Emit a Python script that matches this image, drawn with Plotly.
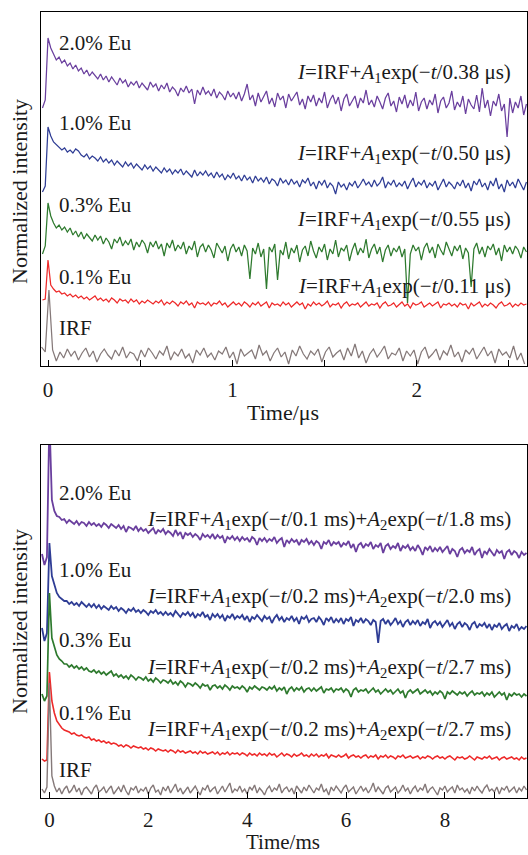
import numpy as np
import plotly.graph_objects as go

# ---------------- DATA ----------------
# Top panel: time in microseconds, uniform sampling
top_t0, top_dt = -0.03, 0.015
irf_top_t0, irf_top_dt = -0.035, 0.02

top_eu20 = [258, 266, 328, 318, 312, 306, 309, 303, 306, 300,
            303, 297, 301, 295, 298, 292, 296, 290, 294, 291,
            287, 292, 286, 290, 284, 289, 285, 281, 288, 283,
            286, 279, 284, 281, 285, 278, 283, 280, 276, 284,
            279, 282, 275, 281, 277, 283, 274, 279, 276, 270,
            278, 274, 280, 273, 277, 262, 276, 271, 279, 272,
            275, 270, 277, 268, 274, 271, 266, 275, 269, 273,
            267, 274, 265, 272, 282, 266, 271, 260, 273, 264,
            270, 275, 262, 268, 259, 273, 266, 270, 258, 272,
            265, 269, 274, 261, 267, 257, 270, 264, 271, 260,
            268, 263, 274, 258, 266, 271, 262, 269, 255, 267,
            272, 260, 265, 270, 258, 268, 263, 276, 261, 266,
            259, 270, 264, 257, 268, 273, 260, 265, 254, 269,
            262, 271, 258, 266, 260, 274, 255, 264, 268, 257,
            266, 261, 272, 253, 265, 269, 258, 263, 275, 256,
            264, 259, 270, 252, 267, 261, 257, 271, 254, 278,
            258, 266, 250, 265, 260, 272, 255, 262, 229, 268,
            253, 264, 258, 270, 251, 262]

top_eu10 = [174, 180, 239, 230, 224, 221, 219, 216, 218, 214,
            216, 213, 217, 215, 211, 209, 212, 207, 210, 208,
            205, 209, 204, 207, 203, 206, 201, 205, 202, 199,
            204, 200, 203, 198, 202, 199, 196, 201, 197, 200,
            195, 199, 196, 193, 198, 194, 197, 192, 196, 193,
            197, 191, 195, 192, 189, 196, 190, 194, 191, 195,
            190, 193, 188, 194, 189, 192, 186, 191, 188, 193,
            187, 190, 185, 191, 186, 189, 183, 190, 185, 188,
            184, 189, 182, 187, 185, 180, 188, 183, 186, 181,
            187, 182, 185, 179, 186, 183, 188, 180, 184, 177,
            185, 181, 186, 178, 183, 180, 172, 184, 179, 182,
            176, 183, 180, 185, 178, 182, 187, 181, 184, 179,
            186, 180, 183, 189, 178, 184, 181, 186, 179, 183,
            180, 185, 177, 183, 188, 179, 184, 181, 186, 178,
            183, 180, 185, 176, 182, 187, 179, 184, 181, 177,
            184, 180, 186, 178, 183, 175, 185, 181, 187, 179,
            183, 176, 185, 180, 188, 177, 182, 174, 186, 180,
            184, 178, 187, 181, 176, 184]

top_eu03 = [112, 120, 163, 150, 143, 138, 141, 136, 139, 134,
            138, 131, 135, 129, 134, 127, 132, 128, 125, 131,
            126, 130, 122, 128, 124, 117, 127, 123, 129, 120,
            125, 121, 127, 116, 124, 119, 126, 122, 113, 124,
            119, 125, 117, 122, 110, 123, 118, 126, 115, 121,
            117, 124, 112, 120, 116, 125, 109, 119, 122, 114,
            121, 116, 108, 123, 118, 113, 120, 105, 117, 122,
            114, 119, 110, 121, 115, 87, 118, 112, 123, 109,
            117, 77, 119, 114, 122, 86, 116, 111, 124, 107,
            118, 113, 121, 104, 116, 120, 110, 125, 115, 108,
            119, 114, 122, 106, 117, 112, 126, 109, 118, 115,
            121, 105, 116, 123, 111, 118, 113, 127, 108, 117,
            122, 112, 119, 104, 116, 121, 110, 118, 114, 120,
            109, 117, 63, 112, 121, 115, 119, 106, 118, 123,
            113, 119, 108, 122, 116, 111, 124, 117, 110, 120,
            115, 121, 107, 118, 113, 79, 117, 123, 112, 119,
            109, 120, 116, 122, 111, 118, 105, 121, 114, 119,
            112, 120, 116, 108, 119, 114]

top_eu01 = [66, 67, 106, 81, 77, 74, 75, 72, 73, 70,
            72, 69, 71, 68, 70, 67, 69, 66, 68, 70,
            66, 68, 65, 67, 64, 68, 66, 63, 67, 65,
            66, 63, 67, 64, 66, 62, 65, 63, 66, 64,
            62, 65, 63, 66, 61, 64, 62, 65, 63, 60,
            64, 62, 65, 61, 63, 58, 64, 62, 63, 61,
            64, 60, 63, 62, 65, 61, 63, 59, 62, 64,
            61, 63, 60, 64, 62, 59, 63, 61, 64, 60,
            62, 64, 58, 63, 61, 62, 60, 64, 61, 63,
            59, 62, 64, 61, 63, 57, 62, 60, 64, 61,
            63, 60, 62, 65, 59, 62, 61, 63, 58, 62,
            64, 60, 62, 61, 63, 59, 62, 64, 60, 62,
            61, 63, 58, 62, 64, 60, 61, 63, 59, 62,
            64, 60, 62, 58, 63, 61, 62, 64, 59, 61,
            63, 60, 62, 64, 58, 62, 61, 63, 60, 62,
            59, 63, 61, 62, 57, 63, 60, 62, 64, 59,
            62, 60, 63, 61, 58, 62, 64, 60, 61, 63,
            59, 62, 60, 63, 61, 62]

top_irf = [19, 14, 76, 16, 5, 14, 8, 17, 10, 15,
           6, 13, 18, 9, 15, 4, 12, 17, 11, 7,
           16, 10, 19, 8, 14, 12, 5, 16, 9, 18,
           13, 7, 15, 11, 20, 6, 14, 10, 17, 8,
           12, 3, 16, 11, 18, 9, 13, 6, 15, 12,
           19, 8, 14, 2, 17, 10, 13, 16, 7, 21,
           11, 15, 5, 13, 18, 9, 14, 2, 16, 10,
           20, 12, 7, 15, 11, 17, 4, 14, 19, 9,
           13, 16, 6, 18, 10, 22, 8, 15, 3, 12,
           17, 9, 14, 20, 7, 13, 11, 18, 5, 15,
           10, 16, 2, 14, 19, 8, 12, 17, 6, 15,
           11, 21, 9, 14, 4, 16, 12, 18, 7, 13,
           19, 10, 15, 3, 17, 11, 14, 8, 20, 6,
           13, 2]

# Bottom panel: time in milliseconds, uniform sampling
bot_t0, bot_dt = -0.15, 0.05

bot_eu20 = [244, 233, 241, 380, 298, 287, 282, 281, 278, 279,
            275, 278, 276, 274, 277, 273, 276, 275, 272, 276,
            273, 275, 272, 274, 271, 275, 273, 270, 274, 272,
            270, 273, 269, 272, 266, 271, 270, 268, 272, 267,
            270, 267, 269, 265, 268, 270, 264, 268, 266, 269,
            264, 267, 265, 262, 268, 263, 266, 259, 265, 263,
            265, 261, 264, 262, 258, 264, 261, 263, 260, 264,
            259, 263, 260, 262, 255, 261, 259, 262, 258, 261,
            257, 261, 258, 260, 256, 261, 259, 253, 260, 257,
            260, 256, 259, 257, 261, 255, 258, 260, 251, 258,
            255, 259, 256, 258, 253, 258, 256, 259, 254, 257,
            253, 257, 255, 249, 256, 254, 258, 252, 256, 254,
            256, 251, 255, 253, 257, 250, 254, 246, 253, 255,
            250, 254, 252, 256, 249, 253, 251, 255, 245, 252,
            254, 249, 252, 250, 255, 247, 252, 250, 253, 248,
            251, 247, 253, 249, 243, 251, 248, 252, 246, 250,
            247, 251, 246, 249, 252, 244, 249, 247, 241, 248,
            250, 245, 248, 246, 251, 243, 247, 249, 240, 247,
            244, 249, 246, 242, 248, 245, 247, 239, 246, 248,
            243, 247, 245, 240, 246, 243, 245]

bot_eu10 = [170, 157, 165, 255, 222, 212, 205, 201, 199, 197,
            197, 194, 196, 193, 195, 192, 196, 193, 191, 194,
            191, 194, 190, 193, 189, 192, 190, 188, 192, 189,
            191, 187, 190, 188, 185, 189, 187, 190, 186, 188,
            185, 188, 186, 183, 187, 185, 188, 184, 186, 183,
            186, 183, 185, 182, 187, 184, 181, 185, 183, 186,
            182, 185, 180, 184, 182, 186, 181, 183, 178, 184,
            181, 184, 180, 183, 177, 182, 180, 184, 179, 182,
            180, 183, 178, 182, 176, 181, 179, 183, 180, 177,
            182, 179, 181, 175, 180, 183, 178, 181, 176, 180,
            178, 182, 177, 180, 174, 181, 179, 182, 176, 179,
            180, 176, 181, 178, 173, 180, 177, 181, 175, 179,
            176, 180, 174, 179, 177, 181, 172, 178, 176, 180,
            175, 179, 177, 173, 178, 176, 155, 177, 179, 174,
            178, 173, 176, 180, 174, 177, 171, 176, 178, 173,
            177, 174, 178, 172, 176, 174, 179, 170, 175, 177,
            173, 176, 171, 175, 178, 172, 175, 169, 174, 176,
            171, 175, 173, 168, 174, 176, 170, 174, 172, 175,
            170, 174, 168, 173, 171, 175, 169, 172, 174, 167,
            172, 170, 174, 168, 171, 169, 172]

bot_eu03 = [104, 97, 102, 205, 160, 151, 143, 139, 137, 134,
            134, 131, 133, 130, 132, 129, 131, 128, 130, 127,
            126, 128, 125, 127, 124, 126, 123, 125, 127, 122,
            124, 121, 123, 120, 122, 119, 123, 121, 118, 121,
            120, 118, 121, 117, 119, 116, 120, 118, 115, 118,
            117, 115, 118, 114, 116, 113, 117, 115, 111, 115,
            114, 112, 115, 113, 110, 114, 112, 113, 108, 112,
            113, 110, 112, 109, 113, 111, 108, 112, 110, 111,
            109, 112, 110, 106, 111, 109, 112, 110, 108, 111,
            110, 108, 111, 109, 112, 107, 110, 108, 111, 104,
            109, 111, 107, 110, 108, 111, 106, 109, 110, 107,
            110, 107, 109, 111, 105, 109, 108, 110, 106, 109,
            108, 110, 106, 109, 107, 101, 108, 110, 106, 108,
            107, 109, 105, 108, 110, 106, 108, 104, 107, 109,
            106, 108, 104, 107, 109, 105, 107, 100, 106, 108,
            105, 107, 109, 104, 106, 108, 105, 107, 103, 106,
            104, 107, 105, 99, 106, 104, 107, 105, 103, 106,
            104, 106, 102, 105, 107, 103, 105, 104, 106, 102,
            105, 103, 106, 101, 104, 106, 103, 105, 98, 104,
            102, 105, 103, 104, 101, 104, 102]

bot_eu01 = [39, 37, 38, 126, 97, 85, 77, 73, 70, 68,
            67, 66, 64, 65, 63, 62, 63, 61, 60, 61,
            58, 59, 57, 58, 56, 57, 55, 56, 54, 55,
            54, 52, 53, 51, 53, 52, 50, 52, 51, 50,
            51, 49, 50, 48, 50, 49, 47, 49, 48, 47,
            48, 46, 48, 47, 45, 48, 46, 47, 45, 46,
            47, 45, 46, 44, 47, 45, 46, 44, 45, 46,
            44, 46, 43, 45, 44, 46, 43, 45, 44, 45,
            43, 45, 44, 42, 45, 43, 44, 42, 45, 43,
            44, 42, 45, 43, 44, 41, 43, 45, 42, 44,
            43, 41, 44, 42, 43, 45, 42, 43, 41, 44,
            42, 44, 41, 43, 42, 44, 40, 43, 42, 41,
            43, 41, 42, 44, 40, 42, 43, 41, 42, 40,
            42, 43, 40, 42, 41, 43, 39, 42, 41, 43,
            40, 42, 41, 39, 42, 41, 43, 40, 41, 42,
            40, 41, 42, 39, 41, 40, 42, 41, 39, 41,
            42, 40, 41, 39, 41, 42, 40, 38, 41, 40,
            41, 39, 40, 42, 40, 38, 41, 40, 39, 41,
            40, 42, 39, 40, 41, 38, 40, 41, 39, 40,
            41, 39, 40, 38, 41, 39, 40]

bot_irf = [9, 5, 11, 115, 22, 12, 6, 10, 4, 9,
           12, 5, 8, 13, 6, 10, 3, 9, 11, 7,
           4, 10, 13, 6, 8, 11, 5, 9, 12, 4,
           8, 11, 6, 13, 7, 3, 10, 8, 12, 5,
           9, 7, 11, 4, 10, 13, 6, 8, 3, 11,
           7, 12, 5, 9, 14, 6, 10, 4, 8, 11,
           5, 9, 12, 7, 3, 10, 8, 13, 6, 9,
           11, 4, 8, 12, 6, 10, 15, 5, 9, 7,
           12, 6, 9, 4, 11, 8, 13, 5, 10, 7,
           3, 9, 12, 6, 10, 8, 14, 5, 9, 11,
           6, 10, 4, 12, 8, 5, 11, 7, 13, 9,
           5, 10, 8, 14, 6, 9, 3, 11, 7, 12,
           8, 5, 10, 13, 6, 9, 11, 4, 8, 12,
           7, 10, 5, 9, 15, 6, 11, 8, 4, 10,
           12, 6, 9, 11, 5, 8, 13, 7, 10, 4,
           9, 12, 6, 10, 8, 14, 5, 9, 11, 7,
           3, 10, 8, 12, 6, 9, 11, 5, 13, 8,
           10, 6, 9, 4, 11, 7, 12, 8, 5, 10,
           13, 7, 9, 6, 11, 4, 10, 8, 12, 6,
           9, 11, 5, 10, 7, 12, 8]

sample_labels = ["2.0% Eu", "1.0% Eu", "0.3% Eu", "0.1% Eu", "IRF"]
top_fits = ["0.38 μs", "0.50 μs", "0.55 μs", "0.11 μs"]
bot_fits = [("0.1 ms", "1.8 ms"), ("0.2 ms", "2.0 ms"),
            ("0.2 ms", "2.7 ms"), ("0.2 ms", "2.7 ms")]
top_ticks = [0, 1, 2]
bot_ticks = [0, 2, 4, 6, 8]

# ---------------- STYLE ----------------
colors = ["#6a3f9e", "#2f3d95", "#2e7a2e", "#ee2a2a", "#857979"]
bot_widths = [1.8, 1.8, 1.7, 1.6, 1.4]
FONT = "Liberation Serif, Times New Roman, serif"
W, H = 528, 855
ML, MR, MT, MB = 41, 1, 12, 57
PW, PH = W - ML - MR, H - MT - MB


def py2paper(py):
    return (H - MB - py) / PH


def px2paper(px):
    return (px - ML) / PW


def times(t0, dt, vals):
    return t0 + dt * np.arange(len(vals))


fig = go.Figure()
top_series = [top_eu20, top_eu10, top_eu03, top_eu01]
for vals, c in zip(top_series, colors[:4]):
    fig.add_trace(go.Scatter(x=times(top_t0, top_dt, vals), y=vals, mode="lines",
                             line=dict(color=c, width=1.25), xaxis="x", yaxis="y",
                             showlegend=False, hoverinfo="skip"))
fig.add_trace(go.Scatter(x=times(irf_top_t0, irf_top_dt, top_irf), y=top_irf, mode="lines",
                         line=dict(color=colors[4], width=1.25), xaxis="x", yaxis="y",
                         showlegend=False, hoverinfo="skip"))

bot_series = [bot_eu20, bot_eu10, bot_eu03, bot_eu01, bot_irf]
for vals, c, w in zip(bot_series, colors, bot_widths):
    fig.add_trace(go.Scatter(x=times(bot_t0, bot_dt, vals), y=vals, mode="lines",
                             line=dict(color=c, width=w), xaxis="x2", yaxis="y2",
                             showlegend=False, hoverinfo="skip"))

top_bottom_px, top_top_px = 366, 12
bot_bottom_px, bot_top_px = 798, 445

axis_common = dict(showline=True, mirror=True, linecolor="black", linewidth=1.2,
                   showgrid=False, zeroline=False)
TXT = "#1a1a1a"
tickfont = dict(family=FONT, size=21, color=TXT)

fig.update_layout(
    width=W, height=H,
    margin=dict(l=ML, r=MR, t=MT, b=MB),
    paper_bgcolor="white", plot_bgcolor="white",
    font=dict(family=FONT, size=21, color=TXT),
    xaxis=dict(domain=[0, 1], anchor="y", range=[-0.038, 2.598],
               tickvals=top_ticks, ticks="inside", ticklen=6, tickcolor="black",
               minor=dict(tickvals=[0.5, 1.5, 2.5], ticks="inside", ticklen=6, tickcolor="black"),
               tickfont=tickfont, ticklabelstandoff=5, **axis_common),
    yaxis=dict(domain=[py2paper(top_bottom_px), py2paper(top_top_px)], anchor="x",
               range=[0, top_bottom_px - top_top_px], showticklabels=False, ticks="",
               **axis_common),
    xaxis2=dict(domain=[0, 1], anchor="y2", range=[-0.17, 9.66],
                tickvals=bot_ticks, ticks="inside", ticklen=6, tickcolor="black",
                minor=dict(tickvals=[1, 3, 5, 7, 9], ticks="inside", ticklen=6, tickcolor="black"),
                tickfont=tickfont, ticklabelstandoff=3, **axis_common),
    yaxis2=dict(domain=[0, py2paper(bot_top_px)], anchor="x2",
                range=[0, bot_bottom_px - bot_top_px], showticklabels=False, ticks="",
                **axis_common),
)

ann = []
tf = dict(family=FONT, size=21, color=TXT)
tf_title = dict(family=FONT, size=22, color=TXT)
# sample labels
for lab, py in zip(sample_labels, [43, 123, 205, 277, 328]):
    ann.append(dict(text=lab, x=px2paper(57), y=py2paper(py), xref="paper", yref="paper",
                    xanchor="left", yanchor="middle", showarrow=False, font=tf))
for lab, py in zip(sample_labels, [493, 570, 640, 713, 770]):
    ann.append(dict(text=lab, x=px2paper(57), y=py2paper(py), xref="paper", yref="paper",
                    xanchor="left", yanchor="middle", showarrow=False, font=tf))
# fit formulas
for tau, py in zip(top_fits, [73, 154, 220, 287]):
    txt = "<i>I</i>=IRF+<i>A</i><sub>1</sub>exp(−<i>t</i>/" + tau + ")"
    ann.append(dict(text=txt, x=px2paper(513), y=py2paper(py), xref="paper", yref="paper",
                    xanchor="right", yanchor="middle", showarrow=False, font=tf))
for (t1, t2), py in zip(bot_fits, [520, 597, 668, 730]):
    txt = ("<i>I</i>=IRF+<i>A</i><sub>1</sub>exp(−<i>t</i>/" + t1 + ")+<i>A</i><sub>2</sub>exp(−<i>t</i>/"
           + t2 + ")")
    ann.append(dict(text=txt, x=px2paper(513), y=py2paper(py), xref="paper", yref="paper",
                    xanchor="right", yanchor="middle", showarrow=False, font=tf))
# axis titles
ann.append(dict(text="Time/μs", x=px2paper(283), y=py2paper(412), xref="paper", yref="paper",
                xanchor="center", yanchor="middle", showarrow=False, font=tf_title))
ann.append(dict(text="Time/ms", x=px2paper(283), y=py2paper(842), xref="paper", yref="paper",
                xanchor="center", yanchor="middle", showarrow=False,
                font=dict(family=FONT, size=21, color=TXT)))
for pyc in [192, 622]:
    ann.append(dict(text="Normalized intensity", x=px2paper(19), y=py2paper(pyc),
                    xref="paper", yref="paper", xanchor="center", yanchor="middle",
                    textangle=-90, showarrow=False, font=tf_title))

fig.update_layout(annotations=ann)
fig.write_html("out.html")
